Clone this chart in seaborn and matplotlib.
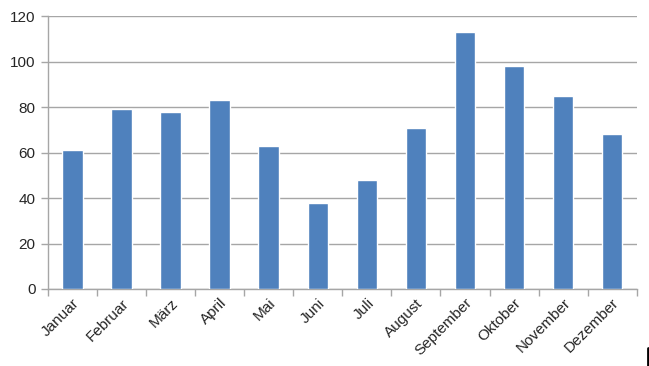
import matplotlib
matplotlib.use("Agg")
import matplotlib.pyplot as plt
import seaborn as sns
import pandas as pd
import numpy as np
from matplotlib.lines import Line2D

# --- Daten ---
monate = ['Januar', 'Februar', 'März', 'April', 'Mai', 'Juni', 'Juli',
          'August', 'September', 'Oktober', 'November', 'Dezember']
werte = [61, 79, 78, 83, 63, 38, 48, 71, 113, 98, 85, 68]
y_ticks = [0, 20, 40, 60, 80, 100, 120]

df = pd.DataFrame({'Monat': monate, 'Wert': werte})

sns.set_theme(style="white")
plt.rcParams['font.family'] = ['Liberation Sans', 'DejaVu Sans']

fig = plt.figure(figsize=(6.49, 3.66), dpi=100)
ax = fig.add_axes([0.074, 0.2104, 0.907, 0.7456])

sns.barplot(data=df, x='Monat', y='Wert', color='#4F81BD', saturation=1,
            width=0.42, ax=ax, zorder=3)

ax.set_ylim(0, 120)
ax.set_xlim(-0.5, len(monate) - 0.5)
ax.set_yticks(y_ticks)
ax.yaxis.grid(True, color='#A6A6A6', linewidth=1, zorder=0)
ax.set_xlabel('')
ax.set_ylabel('')

for s in ['top', 'right']:
    ax.spines[s].set_visible(False)
for s in ['left', 'bottom']:
    ax.spines[s].set_color('#A6A6A6')
    ax.spines[s].set_linewidth(1)

# Tick-Markierungen zwischen den Kategorien (Excel-Stil)
ax.set_xticks(np.arange(-0.5, len(monate)), minor=True)
ax.tick_params(axis='x', which='minor', length=5, color='#A6A6A6', width=1, direction='out', bottom=True)
ax.tick_params(axis='x', which='major', length=0, labelsize=11, pad=5)
ax.tick_params(axis='y', which='major', length=5, color='#A6A6A6', width=1, direction='out', left=True, labelsize=11, pad=4)
plt.setp(ax.get_xticklabels(), rotation=45, ha='right', rotation_mode='anchor')

# kleiner Strich unten rechts wie im Original
fig.add_artist(Line2D([0.9985, 0.9985], [0.0, 0.05], transform=fig.transFigure, color='black', linewidth=2))

fig.savefig('out.png', dpi=100)
